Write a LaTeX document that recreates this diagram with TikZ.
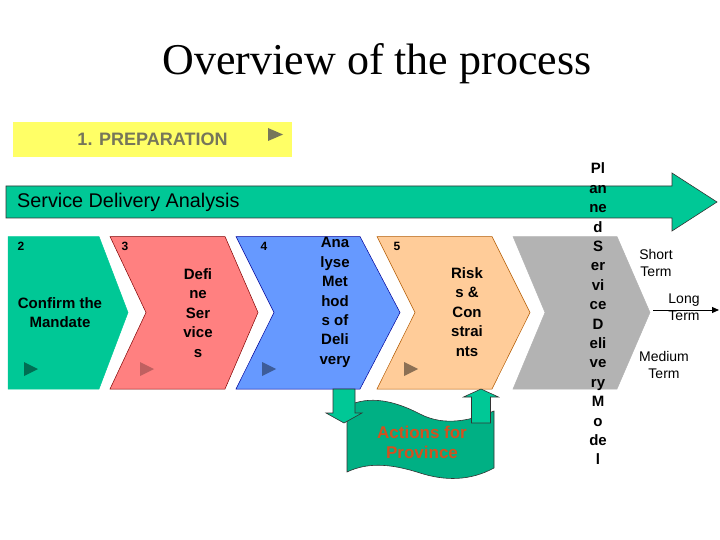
\documentclass[tikz,border=0pt]{standalone}
\usepackage{fontspec}
\setmainfont{Liberation Sans}
\newfontfamily\titlefont{Liberation Serif}
\usetikzlibrary{arrows.meta, calc}
\definecolor{sdagreen}{HTML}{00C896}
\definecolor{chevred}{HTML}{FF8080}
\definecolor{chevblue}{HTML}{6699FF}
\definecolor{chevpeach}{HTML}{FFCC99}
\definecolor{chevgray}{HTML}{B3B3B3}
\definecolor{prepyellow}{HTML}{FFFF66}
\definecolor{prepgray}{HTML}{76765A}
\definecolor{actorange}{HTML}{D4501E}

\begin{document}
\begin{tikzpicture}[
    x=1pt, y=-1pt,
    chevtext/.style={align=center, font=\bfseries\fontsize{15}{19.4}\selectfont},
    num/.style={font=\bfseries\fontsize{12}{14}\selectfont},
    termtext/.style={align=center, font=\fontsize{14}{17}\selectfont},
    blockarrow/.style n args={3}{draw=black!80, fill=sdagreen, line width=0.6pt,
        to path={($(\tikztostart)!#1!90:(\tikztotarget)$)
            -- ($(\tikztotarget)!#3!(\tikztostart)!#1!-90:(\tikztostart)$)
            -- ($(\tikztotarget)!#3!(\tikztostart)!#2!-90:(\tikztostart)$)
            -- (\tikztotarget)
            -- ($(\tikztotarget)!#3!(\tikztostart)!#2!90:(\tikztostart)$)
            -- ($(\tikztotarget)!#3!(\tikztostart)!#1!90:(\tikztostart)$)
            -- ($(\tikztostart)!#1!-90:(\tikztotarget)$) -- cycle}},
]
\useasboundingbox (0,0) rectangle (720,540);

% Title
\node[font=\titlefont\fontsize{44}{46}\selectfont] (title) at (377,64) {Overview of the process};

% Preparation bar
\node[fill=prepyellow, minimum width=279, minimum height=35, text=prepgray,
      font=\bfseries\fontsize{18}{20}\selectfont] (prep) at (152.5,139.5) {1. PREPARATION};
\fill[prepgray] (268,128) -- ++(15,6.5) -- ++(-15,6.5) -- cycle;

% Service delivery arrow
\coordinate (sda0) at (6,202);
\coordinate (sda1) at (717,202);
\draw[blockarrow={16pt}{29pt}{45pt}] (sda0) to (sda1);
\node[anchor=west, inner sep=0pt, font=\fontsize{19.8}{22}\selectfont] (sda) at (17,202) {Service Delivery Analysis};

% Chevrons
\foreach \xl/\xn/\xr/\xt/\col/\edge in {8/8/99/128/sdagreen/sdagreen,
        110/146/225/258/chevred/red!50!black,
        236/274/360/400/chevblue/blue!60!black,
        377/415/492/530/chevpeach/orange!70!black,
        513/545/617/650/chevgray/chevgray} {
    \draw[fill=\col, draw=\edge, line width=0.5pt] (\xl,236.5) -- (\xr,236.5) -- (\xt,312.5)
        -- (\xr,389) -- (\xl,389) -- (\xn,312.5) -- cycle;
}

% Play marks
\foreach \x/\col in {24/sdagreen!55!black, 140/chevred!75!black, 262/chevblue!60!black, 404/chevpeach!55!black} {
    \fill[\col] (\x,362) -- ++(14,7) -- ++(-14,7) -- cycle;
}

% Step numbers
\foreach \x/\n in {21/2, 125/3, 264/4, 397/5} {
    \node[num] (n\n) at (\x,246) {\n};
}

% Step texts
\node[chevtext] (s2) at (60,312.5) {Confirm the\\Mandate};
\node[chevtext] (s3) at (198,313) {Defi\\ne\\Ser\\vice\\s};
\node[chevtext] (s4) at (335,302.5) {Ana\\lyse\\Met\\hod\\s of\\Deli\\very};
\node[chevtext] (s5) at (467,312) {Risk\\s \&\\Con\\strai\\nts};
\node[chevtext] (s6) at (598,314) {Pl\\an\\ne\\d\\S\\er\\vi\\ce\\D\\eli\\ve\\ry\\M\\o\\de\\l};

% Terms
\node[termtext] (short) at (656,262.5) {Short\\Term};
\node[termtext] (long) at (684,307.5) {Long\\Term};
\node[termtext] (medium) at (664,364.5) {Medium\\Term};
\coordinate (lt0) at (653,310);
\coordinate (lt1) at (719,310);
\draw[-{Triangle[length=7pt, width=6pt]}, line width=1pt] (lt0) -- (lt1);

% Actions for province
\draw[draw=black!80, fill=sdagreen!88!black, line width=0.6pt]
    (347,406) .. controls (370,395) and (395,401) .. (420,414)
    .. controls (445,427) and (472,420) .. (494,411) -- (494,468)
    .. controls (470,481) and (445,481) .. (420,473)
    .. controls (395,465) and (370,461) .. (347,472) -- cycle;
\node[align=center, text=actorange, font=\bfseries\fontsize{17}{20}\selectfont] (prov) at (422,442) {Actions for\\Province};
\coordinate (dn0) at (344,389);
\coordinate (dn1) at (344,423);
\coordinate (up0) at (481,423);
\coordinate (up1) at (481,389);
\draw[blockarrow={11pt}{18pt}{10pt}] (dn0) to (dn1);
\draw[blockarrow={9.5pt}{17.5pt}{8pt}] (up0) to (up1);

\end{tikzpicture}
\end{document}
